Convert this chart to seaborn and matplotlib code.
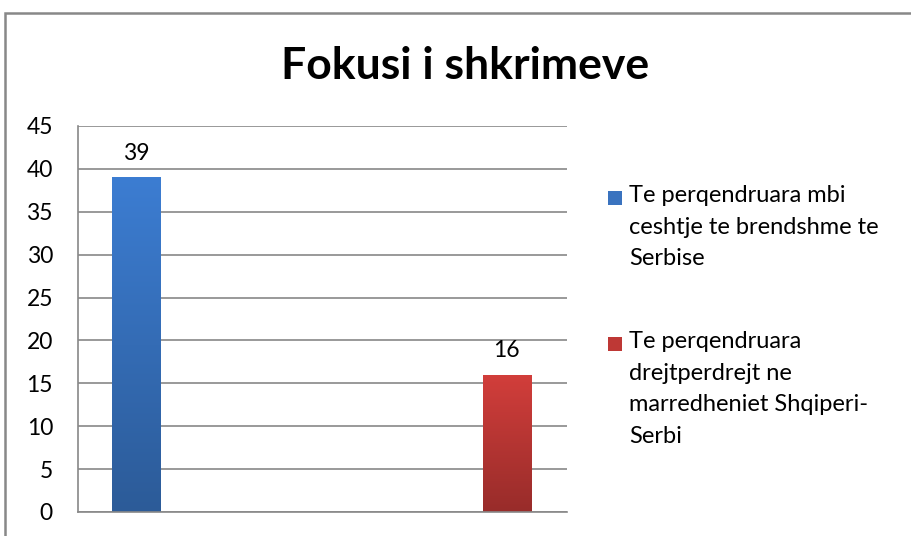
import matplotlib
matplotlib.use("Agg")
import matplotlib.pyplot as plt
import matplotlib.colors as mcolors
from matplotlib.patches import Rectangle
import numpy as np
import pandas as pd
import seaborn as sns

# ---- data ----
title = "Fokusi i shkrimeve"
categories = ["Te perqendruara mbi ceshtje te brendshme te Serbise",
              "Te perqendruara drejtperdrejt ne marredheniet Shqiperi-Serbi"]
legend_labels = ["Te perqendruara mbi\nceshtje te brendshme te\nSerbise",
                 "Te perqendruara\ndrejtperdrejt ne\nmarredheniet Shqiperi-\nSerbi"]
values = [39, 16]
yticks = [0, 5, 10, 15, 20, 25, 30, 35, 40, 45]
colors_top = ["#3C7DD2", "#D23E3B"]
colors_bottom = ["#2C5B98", "#982C2A"]
colors_mid = ["#3A73BF", "#BE3835"]

df = pd.DataFrame({"cat": categories, "val": values})

sns.set_theme(style="white")
FONT = ["Lato", "DejaVu Sans"]
plt.rcParams["font.family"] = FONT

W, H = 912, 536
fig = plt.figure(figsize=(W / 100, H / 100), dpi=100)
ax = fig.add_axes([78 / W, 1 - 512 / H, (567 - 78) / W, (512 - 126) / H])

sns.barplot(data=df, x="cat", y="val", hue="cat", palette=colors_mid,
            width=0.13, legend=False, ax=ax, saturation=1)

ax.set_ylim(0, 45)
ax.set_xlim(-0.156, 1.162)
ax.set_yticks(yticks)
ax.set_yticklabels([str(t) for t in yticks])
ax.set_xticks([])
ax.set_xlabel("")
ax.set_ylabel("")
ax.tick_params(axis="y", length=0, pad=18, labelsize=16.5, colors="#000000")
ax.yaxis.grid(True, color="#888888", linewidth=1.2)
ax.set_axisbelow(True)
for s in ["top", "right"]:
    ax.spines[s].set_visible(False)
for s in ["left", "bottom"]:
    ax.spines[s].set_color("#888888")
    ax.spines[s].set_linewidth(1.2)

# gradient fill on bars
for i, p in enumerate(ax.patches):
    x0, y0, w, h = p.get_x(), p.get_y(), p.get_width(), p.get_height()
    cmap = mcolors.LinearSegmentedColormap.from_list(
        "g%d" % i, [colors_bottom[i], colors_top[i]])
    grad = np.linspace(0, 1, 256).reshape(-1, 1)
    im = ax.imshow(grad, cmap=cmap, aspect="auto", origin="lower",
                   extent=[x0, x0 + w, y0, y0 + h], zorder=p.get_zorder() + 0.1)
    im.set_clip_path(p)
    p.set_edgecolor("none")
    ax.text(x0 + w / 2, y0 + h + 1.6, str(values[i]), ha="center", va="bottom",
            fontsize=16.5, color="#000000")
ax.set_xlim(-0.156, 1.162)
ax.set_ylim(0, 45)

# title
fig.text(465 / W, 1 - 66 / H, title, ha="center", va="center",
         fontsize=32, fontweight="bold", color="#000000")

# legend (manual, Excel-style)
leg_y = [198, 344]
for i, lab in enumerate(legend_labels):
    fig.add_artist(Rectangle((608 / W, 1 - (leg_y[i] + 7) / H), 14 / W, 14 / H,
                             transform=fig.transFigure,
                             facecolor=colors_mid[i], edgecolor="none"))
    fig.text(629 / W, 1 - (leg_y[i] - 13) / H, lab, ha="left", va="top",
             fontsize=17, color="#000000", linespacing=1.62)

# chart border
fig.add_artist(Rectangle((5 / W, -0.1), 1.2, 1 - 13 / H + 0.1,
                         transform=fig.transFigure, fill=False,
                         edgecolor="#888888", linewidth=1.8))

fig.savefig("out.png", dpi=100)
